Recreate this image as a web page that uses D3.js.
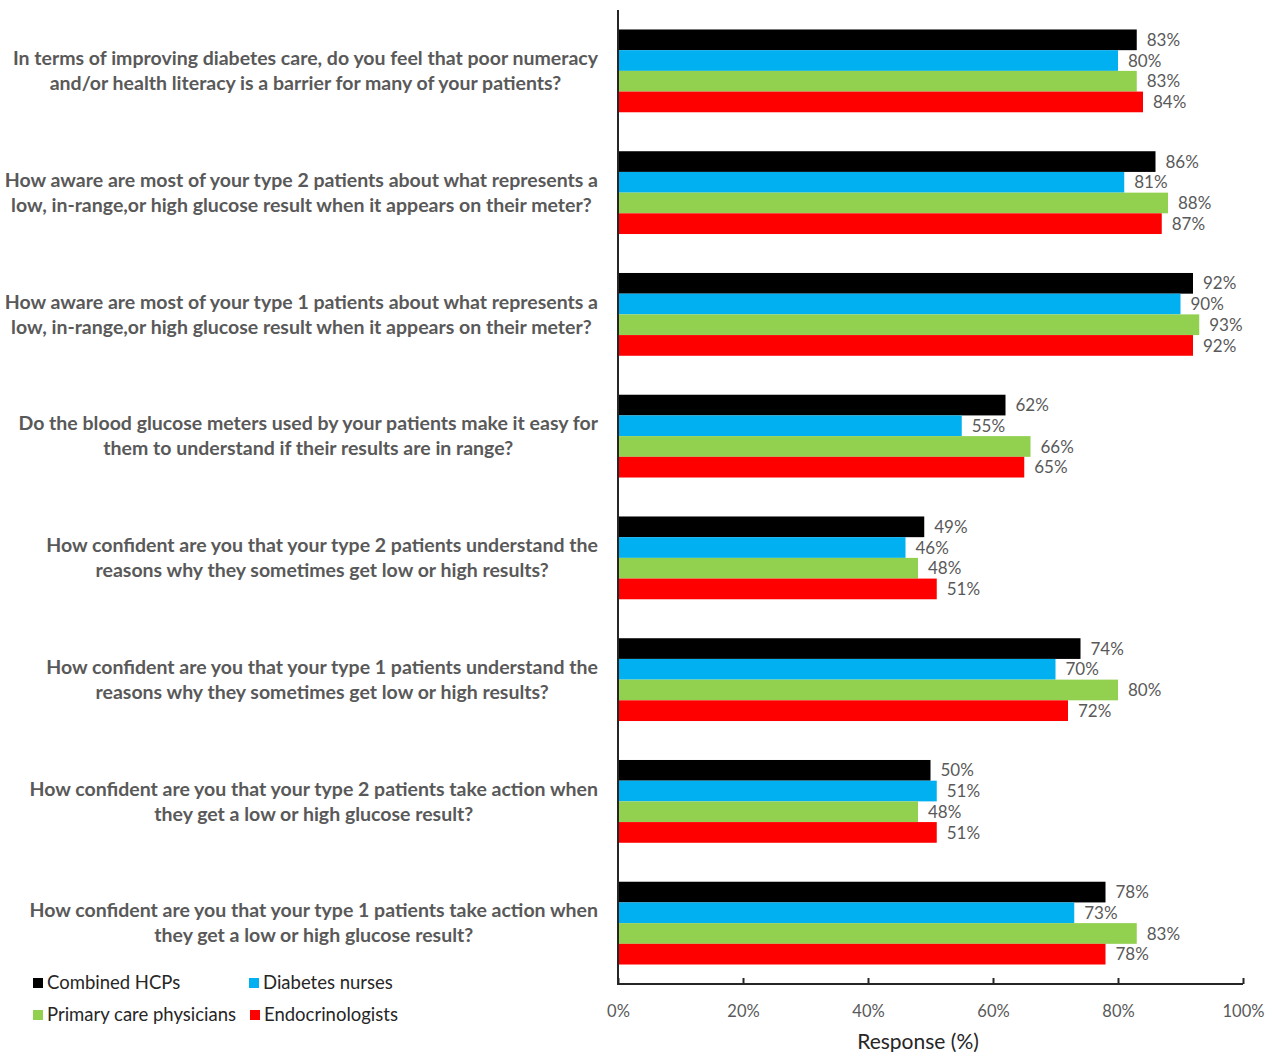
<!DOCTYPE html>
<html lang="en">
<head>
  <meta charset="UTF-8">
  <title>HCP survey responses</title>
  <style>
    body { margin: 0; background: #fff; }
    svg { display: block; }
    text { font-family: Lato, "Open Sans", sans-serif; }
  </style>
</head>
<body>
  <svg width="1275" height="1052"></svg>
  <script src="https://d3js.org/d3.v7.min.js"></script>
  <script>
  const questions = [
    ["In terms of improving diabetes care, do you feel that poor numeracy", "and/or health literacy is a barrier for many of your patients?"],
    ["How aware are most of your type 2 patients about what represents a", "low, in-range,or high glucose result when it appears on their meter?"],
    ["How aware are most of your type 1 patients about what represents a", "low, in-range,or high glucose result when it appears on their meter?"],
    ["Do the blood glucose meters used by your patients make it easy for", "them to understand if their results are in  range?"],
    ["How confident are you that your type 2 patients understand the", "reasons why they sometimes get low or high results?"],
    ["How confident are you that your type 1 patients understand the", "reasons why they sometimes get low or high results?"],
    ["How confident are you that your type 2 patients take action when", "they get a low or high glucose result?"],
    ["How confident are you that your type 1 patients take action when", "they get a low or high glucose result?"]
  ];
  const seriesNames = ["Combined HCPs", "Diabetes nurses", "Primary care physicians", "Endocrinologists"];
  const seriesColors = ["#000000", "#00B0F0", "#92D050", "#FF0000"];
  const combined  = [83, 86, 92, 62, 49, 74, 50, 78];
  const nurses    = [80, 81, 90, 55, 46, 70, 51, 73];
  const primary   = [83, 88, 93, 66, 48, 80, 48, 83];
  const endo      = [84, 87, 92, 65, 51, 72, 51, 78];
  const xTicks = [0, 20, 40, 60, 80, 100];

  const series = [combined, nurses, primary, endo];
  const svg = d3.select("svg");

  const x = d3.scaleLinear().domain([0, 100]).range([618, 1243]);
  const y0 = d3.scaleBand().domain(d3.range(questions.length)).range([10, 984]).paddingInner(0.32).paddingOuter(0.16);
  const y1 = d3.scaleBand().domain(d3.range(series.length)).range([0, y0.bandwidth()]);

  const rows = [];
  questions.forEach((q, i) => series.forEach((s, j) => rows.push({ i, j, v: s[i] })));

  // bars
  svg.append("g").selectAll("rect").data(rows).join("rect")
    .attr("x", x(0))
    .attr("y", d => y0(d.i) + y1(d.j))
    .attr("width", d => x(d.v) - x(0))
    .attr("height", y1.bandwidth())
    .attr("fill", d => seriesColors[d.j]);

  // value labels
  svg.append("g").selectAll("text").data(rows).join("text")
    .attr("x", d => x(d.v) + 10)
    .attr("y", d => y0(d.i) + y1(d.j) + y1.bandwidth() / 2)
    .attr("dy", "0.36em")
    .attr("fill", "#595959")
    .style("font-size", "17px")
    .text(d => d.v + "%");

  // axes
  const xAxis = svg.append("g")
    .attr("transform", "translate(0,984)")
    .call(d3.axisBottom(x).tickValues(xTicks).tickSize(-6).tickPadding(21).tickFormat(d => d + "%"));
  xAxis.select(".domain").attr("stroke", "#262626").attr("stroke-width", 2).attr("d", "M618,0H1243");
  xAxis.selectAll(".tick line").attr("stroke", "#262626").attr("stroke-width", 2);
  xAxis.selectAll(".tick text").attr("fill", "#595959").style("font-size", "16.5px").style("font-family", "Lato, sans-serif");

  svg.append("line")
    .attr("x1", x(0)).attr("x2", x(0)).attr("y1", 10).attr("y2", 985)
    .attr("stroke", "#262626").attr("stroke-width", 2);

  svg.append("text")
    .attr("x", 918).attr("y", 1049)
    .attr("text-anchor", "middle")
    .attr("fill", "#262626")
    .style("font-size", "21px")
    .text("Response (%)");

  // question labels: centred block, right edge at 598
  const qg = svg.append("g");
  questions.forEach((q, i) => {
    const cy = y0(i) + y0.bandwidth() / 2;
    const t = qg.append("text")
      .attr("fill", "#595959")
      .attr("text-anchor", "middle")
      .style("font-size", "19.5px")
      .style("font-weight", "bold");
    const spans = q.map((line, k) => t.append("tspan").attr("y", cy + (k - 0.5) * 25).attr("dy", "0.35em").text(line));
    const w = d3.max(spans, s => s.node().getComputedTextLength());
    spans.forEach(s => s.attr("x", 598 - w / 2));
  });

  // legend
  const legendPos = [[33, 983], [249, 983], [33, 1015], [250, 1015]];
  const lg = svg.append("g").selectAll("g").data(seriesNames).join("g")
    .attr("transform", (d, k) => `translate(${legendPos[k][0]},${legendPos[k][1]})`);
  lg.append("rect").attr("x", 0).attr("y", -5).attr("width", 10).attr("height", 10)
    .attr("fill", (d, k) => seriesColors[k]);
  lg.append("text").attr("x", 14).attr("dy", "0.35em")
    .attr("fill", "#262626")
    .style("font-size", "18.5px")
    .text(d => d);
  </script>
</body>
</html>
